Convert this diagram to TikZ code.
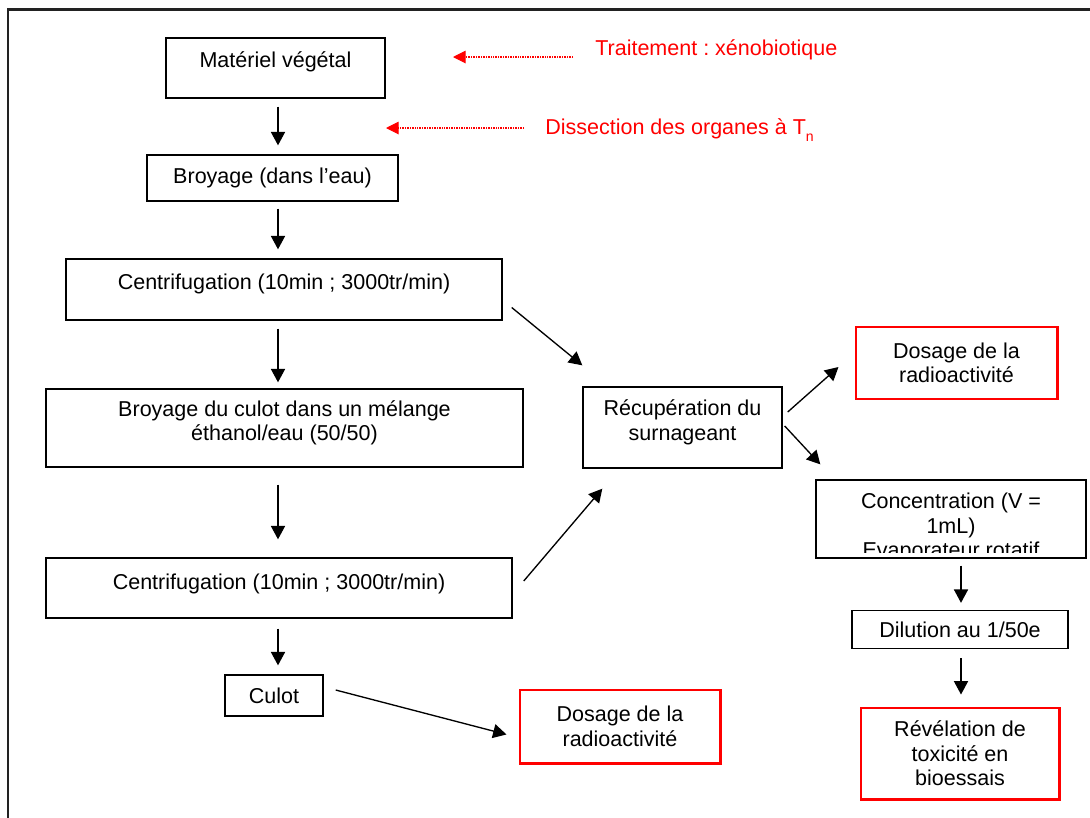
\documentclass[tikz,border=0pt]{standalone}
\usepackage{fontspec}
\setmainfont{Liberation Sans}
\usepackage{xcolor}
\usepackage{tikz}
\usetikzlibrary{arrows.meta, calc}
\definecolor{alertred}{HTML}{FF0000}
\definecolor{framegray}{HTML}{222222}
\frenchspacing

\begin{document}
\begin{tikzpicture}[
    x=0.025cm, y=-0.025cm,
    every node/.style={font=\fontsize{15.3}{17.4}\selectfont},
    procbox/.style={rectangle, draw=black, line width=0.95pt, align=center,
                    inner sep=2pt},
    resultbox/.style={procbox, draw=alertred, line width=2.1pt},
    lift/.style={text depth=#1},
    flow/.style={-{Triangle[length=9.5pt, width=10pt]}, line width=0.95pt},
    hint/.style={-{Triangle[length=9pt, width=9pt]}, alertred, line width=0.75pt,
                 dash pattern=on 0.6pt off 0.6pt},
]
\useasboundingbox (0,0) rectangle (1090,817);
% Frame
\draw[framegray, line width=1.7pt] (8,840) -- (8,9.5) -- (1100,9.5);

% Left column
\node[procbox, minimum width=5.475cm, minimum height=1.5cm, lift=12pt] (mat) at (275.5,68) {Matériel végétal};
\node[procbox, minimum width=6.275cm, minimum height=1.15cm] (broy) at (272.5,178) {Broyage (dans l’eau)};
\node[procbox, minimum width=10.9cm, minimum height=1.525cm, lift=10.5pt] (cent1) at (284,289.5) {Centrifugation (10min ; 3000tr/min)};
\node[procbox, minimum width=11.925cm, minimum height=1.95cm, lift=10.5pt] (culbroy) at (284.5,428) {Broyage du culot dans un mélange\\éthanol/eau (50/50)};
\node[procbox, minimum width=11.65cm, minimum height=1.5cm, lift=9pt] (cent2) at (279,588) {Centrifugation (10min ; 3000tr/min)};
\node[procbox, minimum width=2.45cm, minimum height=1.025cm] (culot) at (274,695.5) {Culot};
\node[resultbox, minimum width=5cm, minimum height=1.825cm] (dosbas) at (620,726.5) {Dosage de la\\radioactivité};

% Right part
\node[procbox, minimum width=4.975cm, minimum height=2.025cm, lift=10.5pt] (recup) at (682.5,427.5) {Récupération du\\surnageant};
\node[resultbox, minimum width=5.025cm, minimum height=1.8cm] (doshaut) at (956.5,363) {Dosage de la\\radioactivité};
\node[procbox, minimum width=6.75cm, minimum height=1.95cm] (conc) at (951,519) {};
\begin{scope}
  \clip ([shift={(1,1)}]conc.north west) rectangle ([shift={(-1,-6)}]conc.south east);
  \node[align=center] (conctxt) at (951,527.5) {Concentration (V =\\1mL)\\Evaporateur rotatif};
\end{scope}
\node[procbox, minimum width=5.4cm, minimum height=0.95cm] (dil) at (960,629.5) {Dilution au 1/50e};
\node[resultbox, minimum width=4.95cm, minimum height=2.275cm] (rev) at (960,753.5) {Révélation de\\toxicité en\\bioessais};

% Red notes
\node[anchor=west, inner sep=0pt, text=alertred] (treat) at (595,50) {Traitement : xénobiotique};
\node[anchor=west, inner sep=0pt, text=alertred] (dissec) at (545,130) {Dissection des organes à T\raisebox{-0.3em}{\fontsize{10}{10}\selectfont n}};
\coordinate (treattip) at (453,57);
\coordinate (dissectip) at (386,128);
\draw[hint, shorten <=0.55cm] (treat.west |- treattip) -- (treattip);
\draw[hint, shorten <=0.525cm] (dissec.west |- dissectip) -- (dissectip);

% Vertical arrows
\coordinate (spine) at (278,0);
\coordinate (rspine) at (961,0);
\foreach \a/\b/\s/\e in {mat/broy/0.2/0.225, broy/cent1/0.175/0.225, cent1/culbroy/0.2/0.15,
                         culbroy/cent2/0.425/0.45, cent2/culot/0.25/0.225}
  \draw[flow, shorten <=\s cm, shorten >=\e cm] (\a.south -| spine) -- (\b.north -| spine);
\foreach \a/\b/\s/\e in {conc/dil/0.175/0.175, dil/rev/0.225/0.3}
  \draw[flow, shorten <=\s cm, shorten >=\e cm] (\a.south -| rspine) -- (\b.north -| rspine);

% Diagonal arrows
\draw[flow] ([shift={(9,18)}]cent1.east) -- ([shift={(0,-21)}]recup.north west);
\draw[flow] ([shift={(11,-7)}]cent2.east) -- ([shift={(20,20)}]recup.south west);
\draw[flow] ([shift={(5,-15.5)}]recup.east) -- ([shift={(-16,4)}]doshaut.west);
\draw[flow] ([shift={(2,-1.5)}]recup.east) -- ([shift={(5,-15)}]conc.north west);
\draw[flow] ([shift={(12,-5.5)}]culot.east) -- ([shift={(-12,8)}]dosbas.west);
\end{tikzpicture}
\end{document}
